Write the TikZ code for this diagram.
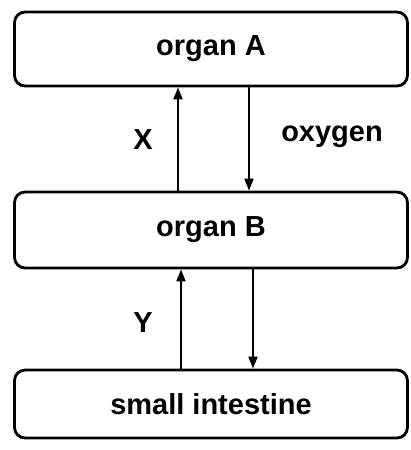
\documentclass[tikz,border=0pt]{standalone}
\usepackage{fontspec}
\setmainfont{Liberation Sans}
\usetikzlibrary{arrows.meta,positioning}

\begin{document}
\begin{tikzpicture}[x=0.02cm, y=-0.02cm,
  organ/.style={draw, line width=1.6pt, rounded corners=6pt, minimum width=7.86cm, font=\fontsize{16.5}{20}\selectfont\bfseries, inner sep=0pt},
  lbl/.style={font=\fontsize{16.5}{20}\selectfont\bfseries, inner sep=0pt},
  arr/.style={-{Triangle[length=2.4mm, width=1.8mm]}, line width=1.1pt}]
\useasboundingbox (0,0) rectangle (411,450);
\node[organ, minimum height=1.48cm] (orgA) at (211,49) {organ A};
\node[organ, minimum height=1.52cm] (orgB) at (211,230) {organ B};
\node[organ, minimum height=1.36cm] (gut) at (211,404) {small intestine};
% arrow columns
\coordinate (colX) at (178,0);
\coordinate (colO) at (249,0);
\coordinate (colY) at (181,0);
\coordinate (colD) at (253,0);
\draw[arr] (colX |- orgB.north) -- (colX |- orgA.south);
\draw[arr] (colO |- orgA.south) -- (colO |- orgB.north);
\draw[arr] (colY |- gut.north) -- (colY |- orgB.south);
\draw[arr] (colD |- orgB.south) -- (colD |- gut.north);
\node[lbl] (labX) at (143,140) {X};
\node[lbl] (labO) at (332,137) {oxygen};
\node[lbl] (labY) at (143,323) {Y};
\end{tikzpicture}
\end{document}
